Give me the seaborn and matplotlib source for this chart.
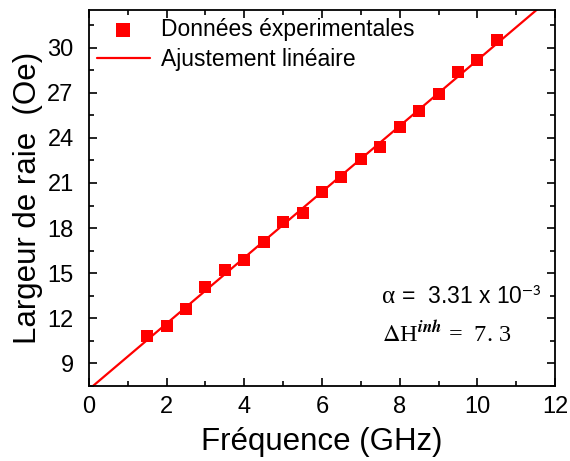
import numpy as np
import pandas as pd
import seaborn as sns
import matplotlib.pyplot as plt
from matplotlib.ticker import MultipleLocator

# données
frequence = [1.5, 2.0, 2.5, 3.0, 3.5, 4.0, 4.5, 5.0, 5.5, 6.0,
             6.5, 7.0, 7.5, 8.0, 8.5, 9.0, 9.5, 10.0, 10.5]
largeur = [10.8, 11.45, 12.6, 14.1, 15.2, 15.9, 17.1, 18.4, 19.0, 20.4,
           21.4, 22.6, 23.4, 24.7, 25.8, 26.9, 28.4, 29.2, 30.5]
x_ticks = [0, 2, 4, 6, 8, 10, 12]
y_ticks = [9, 12, 15, 18, 21, 24, 27, 30]


def main():
    sns.set_style("ticks")
    plt.rcParams['font.family'] = ['Liberation Sans', 'DejaVu Sans']
    plt.rcParams['mathtext.fontset'] = 'stix'
    plt.rcParams['text.color'] = 'black'
    plt.rcParams['axes.labelcolor'] = 'black'

    df = pd.DataFrame({'f': frequence, 'dh': largeur})
    pente, origine = np.polyfit(df['f'], df['dh'], 1)
    xs = np.array([0, 12])
    fit = pd.DataFrame({'f': xs, 'dh': pente * xs + origine})

    fig = plt.figure(figsize=(5.70, 4.61), dpi=100)
    ax = fig.add_axes([0.156, 0.163, 0.818, 0.815])

    sns.lineplot(data=fit, x='f', y='dh', color='#ff0000', linewidth=1.6,
                 ax=ax, label='Ajustement linéaire', zorder=2)
    sns.scatterplot(data=df, x='f', y='dh', color='#ff0000', marker='s', s=85,
                    edgecolor='#ff0000', linewidth=0, ax=ax,
                    label='Données éxperimentales', zorder=3)

    ax.set_xlim(0, 12)
    ax.set_ylim(7.5, 32.5)
    ax.set_xticks(x_ticks)
    ax.set_yticks(y_ticks)
    ax.xaxis.set_minor_locator(MultipleLocator(1))
    ax.yaxis.set_minor_locator(MultipleLocator(1.5))
    ax.tick_params(which='both', direction='in', top=True, right=True,
                   labelsize=17, width=1.2, colors='black')
    ax.tick_params(which='major', length=6)
    ax.tick_params(which='minor', length=3.5)
    ax.tick_params(axis='x', which='major', pad=7)
    ax.tick_params(axis='y', which='major', pad=11)
    for s in ax.spines.values():
        s.set_linewidth(1.3)
        s.set_color('black')

    ax.set_xlabel('Fréquence (GHz)', fontsize=22.5, labelpad=7)
    ax.set_ylabel('Largeur de raie  (Oe)', fontsize=22.5, labelpad=3)

    h, l = ax.get_legend_handles_labels()
    ax.legend(h[::-1], l[::-1], loc='upper left', frameon=False, fontsize=16.5,
              handlelength=2.3, borderaxespad=0.1, labelspacing=0.3,
              handletextpad=0.5, borderpad=0.25, labelcolor='black',
              markerscale=1.1)

    t1 = ax.text(7.55, 13.4, 'α', fontsize=18, va='center',
                 family=['Liberation Serif', 'DejaVu Serif'])
    ax.annotate(r' =  3.31 x 10$^{\mathsf{-3}}$', xy=(1, 0.5), xycoords=t1,
                fontsize=16.5, va='center', ha='left')
    ax.text(7.55, 11.0, r'$\Delta$H$^{\mathbfit{inh}}$ =  7. 3', fontsize=17.5,
            va='center', family=['Liberation Serif', 'DejaVu Serif'])

    fig.savefig('out.png', dpi=100)


if __name__ == "__main__":
    main()
